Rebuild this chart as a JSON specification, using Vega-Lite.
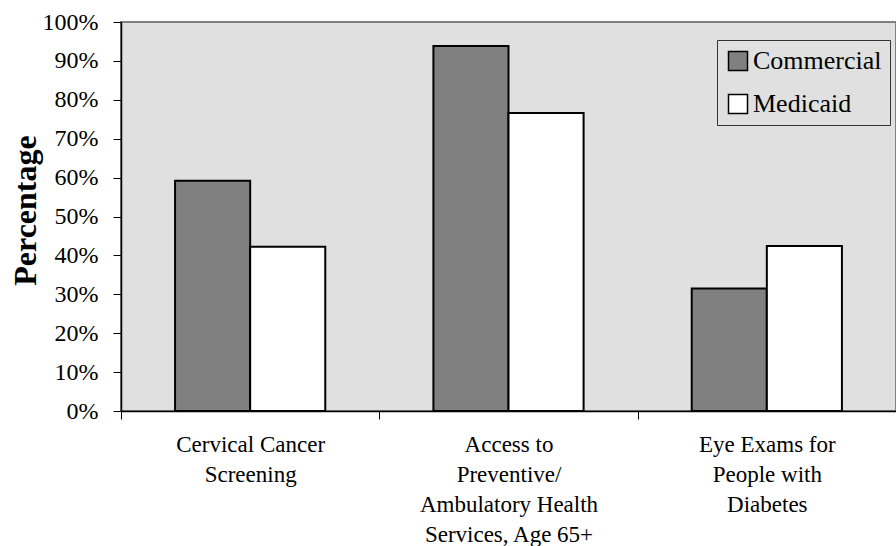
{
  "$schema": "https://vega.github.io/schema/vega-lite/v6.json",
  "width": 775,
  "height": 389,
  "autosize": {"type": "none"},
  "padding": {"left": 121, "top": 22, "right": 0, "bottom": 135},
  "background": "white",
  "config": {
    "view": {"fill": "#e0e0e0", "stroke": "#808080", "strokeWidth": 2},
    "font": "Liberation Serif"
  },
  "title": {
    "text": "and Medicaid HMOs, 1996.",
    "anchor": "start",
    "frame": "group",
    "fontSize": 30,
    "fontWeight": "bold",
    "font": "Liberation Serif",
    "color": "black",
    "baseline": "alphabetic",
    "offset": 15,
    "dx": -106
  },
  "data": {
    "values": [
      {"measure": "Cervical Cancer|Screening", "plan": "Commercial", "pct": 0.592},
      {"measure": "Cervical Cancer|Screening", "plan": "Medicaid", "pct": 0.422},
      {"measure": "Access to|Preventive/|Ambulatory Health|Services, Age 65+", "plan": "Commercial", "pct": 0.938},
      {"measure": "Access to|Preventive/|Ambulatory Health|Services, Age 65+", "plan": "Medicaid", "pct": 0.766},
      {"measure": "Eye Exams for|People with|Diabetes", "plan": "Commercial", "pct": 0.315},
      {"measure": "Eye Exams for|People with|Diabetes", "plan": "Medicaid", "pct": 0.424}
    ]
  },
  "mark": {"type": "bar", "stroke": "black", "strokeWidth": 2},
  "encoding": {
    "x": {
      "field": "measure",
      "type": "nominal",
      "sort": null,
      "scale": {"paddingInner": 0, "paddingOuter": 0},
      "axis": {
        "title": null,
        "labelAngle": 0,
        "tickBand": "extent",
        "labelExpr": "split(datum.label, '|')",
        "labelFont": "Liberation Serif",
        "labelFontSize": 23,
        "labelLineHeight": 30,
        "labelBaseline": "top",
        "labelPadding": 14,
        "labelColor": "black",
        "labelLimit": 300,
        "tickSize": 8,
        "tickColor": "black",
        "domainColor": "black",
        "domainWidth": 1.5
      }
    },
    "xOffset": {
      "field": "plan",
      "sort": ["Commercial", "Medicaid"],
      "scale": {"paddingOuter": 0.72, "paddingInner": 0}
    },
    "y": {
      "field": "pct",
      "type": "quantitative",
      "scale": {"domain": [0, 1]},
      "axis": {
        "values": [0, 0.1, 0.2, 0.3, 0.4, 0.5, 0.6, 0.7, 0.8, 0.9, 1],
        "format": ".0%",
        "grid": false,
        "labelFont": "Liberation Serif",
        "labelFontSize": 24,
        "labelColor": "black",
        "labelPadding": 15,
        "tickSize": 8,
        "tickColor": "black",
        "domainColor": "black",
        "domainWidth": 1.5,
        "title": "Percentage",
        "titleFont": "Liberation Serif",
        "titleFontSize": 32,
        "titleFontWeight": "bold",
        "titleColor": "black",
        "titleX": -96,
        "titleY": 188,
        "titleBaseline": "middle",
        "titleAngle": -90,
        "titleAlign": "center"
      }
    },
    "color": {
      "field": "plan",
      "type": "nominal",
      "scale": {"domain": ["Commercial", "Medicaid"], "range": ["#808080", "#ffffff"]},
      "legend": {
        "orient": "none",
        "legendX": 596,
        "legendY": 18,
        "title": null,
        "symbolType": "square",
        "symbolSize": 361,
        "symbolStrokeColor": "black",
        "symbolStrokeWidth": 1.5,
        "symbolOpacity": 1,
        "labelFont": "Liberation Serif",
        "labelFontSize": 26,
        "labelColor": "black",
        "labelOffset": 2,
        "rowPadding": 17,
        "padding": 8,
        "strokeColor": "#333333",
        "fillColor": "#e0e0e0"
      }
    }
  }
}
